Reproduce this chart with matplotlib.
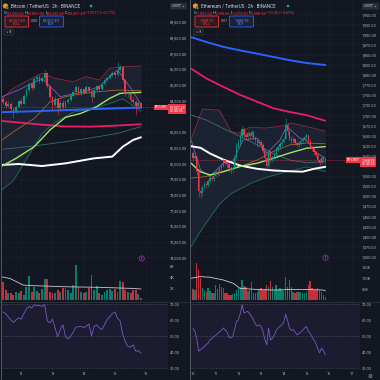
import numpy as np
import matplotlib.pyplot as plt
from matplotlib.patches import FancyBboxPatch, Circle
from matplotlib.transforms import blended_transform_factory

plt.rcParams['font.family'] = ['Roboto', 'DejaVu Sans']

BG = '#131722'
UP = '#089981'
DN = '#f23645'
TXT = '#b2b5be'
GRID = '#1c202b'
W = 380.0

# ----------------------------- BTC (2h) -----------------------------
btc_open0 = 84100
btc_close = [83900, 83650, 83800, 83450, 83300, 83600, 83950, 83800, 84300, 84650,
             85050, 84800, 85350, 85500, 85250, 85400, 85750, 84900, 84200, 83700,
             84100, 83500, 83850, 83600, 83900, 84050, 84300, 84550, 84850, 84500,
             84700, 84500, 84850, 84600, 84200, 84650, 84900, 84700, 85050, 85300,
             85450, 85600, 85750, 85600, 85950, 86100, 85300, 84400, 84450, 84000,
             83900, 83650, 83850, 83557.49]
btc_high = [84250, 84050, 83950, 83900, 83550, 83700, 84050, 84150, 84400, 84800,
            85200, 85150, 85500, 85650, 85600, 85550, 85950, 85800, 85000, 84300,
            84250, 84150, 83950, 84000, 84000, 84150, 84450, 84650, 85000, 84900,
            84800, 84750, 84950, 84900, 84650, 84750, 85000, 84950, 85150, 85400,
            85550, 85700, 85850, 85800, 86450, 86250, 86150, 85350, 84650, 84550,
            84200, 84000, 83950, 83900]
btc_low = [83750, 83500, 83550, 83300, 82900, 83200, 83550, 83650, 83750, 84200,
           84550, 84650, 84750, 85250, 85100, 85150, 85300, 84800, 84000, 83400,
           83600, 83100, 83350, 83450, 83500, 83750, 83950, 84200, 84450, 84350,
           84350, 84400, 84450, 84450, 83900, 84150, 84600, 84600, 84650, 84950,
           85200, 85350, 85500, 85450, 85550, 85850, 85200, 84250, 84200, 83900,
           83750, 83100, 83550, 83500]
btc_vol = [3.2, 1.8, 1.2, 1.3, 1.0, 1.4, 1.3, 1.6, 1.0, 2.4,
           4.4, 1.5, 2.3, 1.6, 1.2, 2.0, 3.8, 3.9, 1.5, 1.3,
           1.2, 1.8, 1.4, 2.2, 2.1, 1.9, 1.3, 2.8, 6.4, 2.4,
           1.5, 1.2, 1.4, 2.2, 4.6, 1.8, 2.6, 1.3, 1.0, 1.4,
           1.8, 2.0, 1.6, 2.0, 1.5, 3.5, 3.3, 1.8, 1.4, 1.2,
           1.9, 1.9, 1.1, 0.4]
btc_vma_x = [-0.4, 2.7, 5.3, 7.8, 11.7, 24.5, 37.3, 50, 53]
btc_vma = [4.2, 3.9, 3.3, 2.7, 2.6, 2.4, 2.3, 2.1, 2.0]
btc_rsi = [65, 64, 62, 60, 58.5, 60, 61.3, 60.5, 64, 67,
           68.5, 67.5, 69.5, 69, 69, 68.5, 69.6, 59.5, 58.2, 60.5,
           55, 49.5, 54, 57, 49.5, 48.2, 50, 52.5, 55.5, 55.8,
           56, 55.3, 56, 57.5, 50, 56, 57, 55, 54, 57,
           60.3, 62, 64, 65, 61, 59.5, 51, 46.5, 43.5, 43,
           44.5, 40.5, 40.8, 39.4]
btc_days = ['12', '13', '14', '15', '16']
btc_day_idx = [7, 19, 31, 43, 55]
btc_ticks = [74000, 75000, 76000, 77000, 78000, 79000, 80000, 81000, 82000,
             84000, 85000, 86000, 87000, 88000, 89000]
btc_vticks = [2, 4, 6]
btc_vlabels = ['2K', '4K', '6K']

btc_blue_x = [-0.4, 12, 24, 37, 53]
btc_blue = [83250, 83310, 83380, 83460, 83540]
btc_pink_x = [-0.4, 8, 16, 24, 34, 44, 53]
btc_pink = [82690, 82560, 82440, 82340, 82330, 82400, 82480]
btc_orange_x = [-0.4, 5, 12, 18, 24, 31, 37, 44, 53]
btc_orange = [81480, 82110, 82850, 83900, 84240, 84450, 84560, 84660, 84620]
btc_green_x = [-0.4, 5, 12, 18, 24, 30, 36, 41, 45, 53]
btc_green = [79820, 80310, 81050, 82110, 82920, 83180, 83600, 84130, 84450, 84510]
btc_teal_x = [-0.4, 12, 24, 35, 44, 53]
btc_teal = [80880, 81100, 81370, 81650, 81900, 82330]
btc_white_x = [-0.4, 6, 15, 24, 35, 42, 46, 50, 53]
btc_white = [79890, 79950, 79820, 79990, 80310, 80420, 81050, 81480, 81650]
btc_purple_x = [-0.4, 6, 15, 22, 31, 37, 44, 50, 53]
btc_purple = [84240, 84660, 85400, 84240, 84560, 84870, 85940, 84560, 83710]
btc_bb_x = [-0.4, 4, 11, 15, 20, 27, 32, 37, 41, 46, 53]
btc_bb_up = [84130, 84770, 85400, 85720, 85400, 85190, 85510, 85300, 86040, 86150, 86190]
btc_bb_lo = [78300, 78900, 80800, 81900, 82600, 83250, 83400, 83600, 83800, 84100, 83300]

# ----------------------------- ETH (2h) -----------------------------
eth_open0 = 1605
eth_close = [1595, 1598, 1560, 1512, 1508, 1522, 1530, 1526, 1538, 1545,
             1542, 1550, 1560, 1556, 1568, 1575, 1588, 1582, 1578, 1568,
             1564, 1570, 1596, 1624, 1630, 1648, 1666, 1650, 1646, 1655,
             1648, 1658, 1644, 1638, 1630, 1634, 1626, 1612, 1595, 1575,
             1610, 1590, 1596, 1604, 1615, 1620, 1628, 1634, 1642, 1675,
             1660, 1642, 1635, 1640, 1632, 1626, 1630, 1636, 1640, 1646,
             1650, 1636, 1622, 1616, 1608, 1602, 1590, 1582, 1594, 1591.04,
             1588.98]
eth_high = [1612, 1604, 1600, 1565, 1520, 1528, 1536, 1535, 1542, 1550,
            1551, 1556, 1565, 1566, 1572, 1580, 1593, 1592, 1586, 1581,
            1573, 1576, 1600, 1630, 1642, 1655, 1672, 1670, 1656, 1660,
            1658, 1663, 1660, 1648, 1642, 1640, 1638, 1630, 1615, 1600,
            1614, 1612, 1601, 1609, 1620, 1626, 1634, 1640, 1648, 1692,
            1680, 1664, 1648, 1646, 1644, 1636, 1636, 1640, 1645, 1650,
            1656, 1652, 1640, 1626, 1620, 1612, 1606, 1594, 1598, 1599,
            1593.66]
eth_low = [1590, 1588, 1552, 1498, 1496, 1502, 1516, 1520, 1522, 1532,
           1536, 1538, 1546, 1550, 1552, 1563, 1571, 1576, 1570, 1560,
           1556, 1558, 1566, 1592, 1618, 1626, 1644, 1645, 1638, 1640,
           1642, 1645, 1638, 1630, 1622, 1624, 1618, 1605, 1586, 1566,
           1572, 1584, 1585, 1592, 1600, 1610, 1616, 1624, 1630, 1640,
           1652, 1636, 1628, 1630, 1626, 1620, 1622, 1626, 1632, 1636,
           1642, 1630, 1616, 1610, 1602, 1596, 1584, 1576, 1578, 1584,
           1579.20]
eth_vol = [50, 45, 175, 140, 100, 53, 45, 37, 56, 40,
           30, 30, 70, 50, 73, 60, 53, 33, 29, 22,
           21, 25, 29, 45, 53, 58, 94, 65, 60, 40,
           45, 85, 29, 30, 37, 45, 53, 45, 50, 69,
           60, 89, 61, 45, 69, 45, 53, 45, 40, 106,
           61, 91, 61, 37, 29, 35, 37, 37, 29, 30,
           37, 69, 89, 53, 45, 45, 53, 45, 37, 21,
           10]
eth_vma_x = [-1, 3.7, 9, 16, 21.3, 24.9, 33.7, 42.5, 51.3, 60.1, 69, 70]
eth_vma = [101, 109, 106, 93, 77, 53, 48, 45, 48, 48, 45, 42]
eth_rsi = [54.5, 53, 48, 40.5, 41.5, 42.3, 43.5, 44.6, 45.5, 47.7,
           48.5, 49.5, 50.3, 51.5, 52.5, 53.4, 55, 53.8, 52.5, 49.5,
           48.8, 49.6, 54, 59, 60, 64, 69.5, 64.4, 65, 65.4,
           63.8, 62.3, 60, 57.5, 56.2, 57, 56, 53, 48, 44.6,
           55, 47.5, 48.5, 50.5, 53.5, 55, 56, 57, 58.5, 63.5,
           60, 55, 53.5, 54, 52.5, 50.8, 51.5, 52.5, 53.5, 55,
           56, 52.9, 51.5, 49.5, 47.5, 45.5, 42, 39.5, 42.3, 41,
           38.3]
eth_days = ['10', '11', '12', '13', '14', '15', '16', '17']
eth_day_idx = [0, 12, 24, 36, 48, 60, 72, 84]
eth_ticks = [t for t in range(1350, 1951, 25) if t != 1575]
eth_vticks = [50, 100, 150]
eth_vlabels = ['50K', '100K', '150K']

eth_blue_x = [-1, 7, 16, 25, 34, 42.5, 51, 60, 70]
eth_blue = [1893, 1881, 1869, 1860, 1852, 1844, 1836, 1829, 1824]
eth_pink_x = [-1, 7, 16, 25, 34, 42.5, 51, 60, 70]
eth_pink = [1815, 1791, 1770, 1750, 1733, 1717, 1708, 1700, 1686]
eth_gray_x = [-1, 7, 16, 25, 34, 42.5, 51, 60, 70]
eth_gray = [1700, 1688, 1667, 1647, 1626, 1605, 1589, 1582, 1585]
eth_white_x = [-1, 4, 9, 16, 25, 34, 42.5, 51, 58, 64, 70]
eth_white = [1623, 1619, 1605, 1590, 1575, 1567, 1563, 1561, 1560, 1567, 1572]
eth_green_x = [-1, 3.7, 9, 16, 25, 34, 42.5, 51, 60, 70]
eth_green = [1581, 1560, 1552, 1560, 1573, 1581, 1593, 1606, 1618, 1622]
eth_orange_x = [-1, 7, 16, 25, 34, 42.5, 51, 60, 70]
eth_orange = [1544, 1548, 1560, 1573, 1589, 1610, 1626, 1631, 1629]
eth_purple_x = [-1, 4, 9, 16, 21, 26.5, 34, 39, 46, 49.5, 56.5, 60, 65.5, 70]
eth_purple = [1638, 1564, 1548, 1581, 1585, 1638, 1643, 1606, 1638, 1672, 1643, 1638, 1606, 1593]
eth_bb_x = [-1, 5, 14, 20, 24, 30, 38, 46, 52, 60, 70]
eth_bb_up = [1640, 1715, 1712, 1660, 1655, 1670, 1668, 1672, 1680, 1672, 1660]
eth_bb_lo = [1375, 1420, 1480, 1505, 1515, 1530, 1545, 1555, 1562, 1572, 1560]

fig = plt.figure(figsize=(3.8, 3.8), dpi=100, facecolor=BG)


def px(l, t, w, h):
    return [l / W, 1 - (t + h) / W, w / W, h / W]


def clean(a):
    for s in a.spines.values():
        s.set_visible(False)


def draw_panel(left, width, xlim, ylim, vylim, sym, op0, close, high, low, vol,
               vma_x, vma, rsi, days, day_idx, ticks, vticks, vlabels, lines, bb):
    n = len(close)
    x = np.arange(n)
    c = np.array(close, float)
    o = np.array([op0] + close[:-1], float)
    cols = np.where(c >= o, UP, DN)

    ax = fig.add_axes(px(left, 0, width, 301))
    ax.set_facecolor(BG)
    clean(ax)
    ax.set_xlim(*xlim)
    ax.set_ylim(*ylim)
    ax.set_xticks(day_idx)
    ax.tick_params(axis='x', length=0, labelbottom=False)
    ax.yaxis.tick_right()
    ax.set_yticks(ticks)
    ax.set_yticklabels([f'{t:,.2f}' for t in ticks])
    ax.tick_params(axis='y', length=0, pad=1.2, labelsize=2.8, labelcolor=TXT)
    ax.grid(True, color=GRID, lw=0.4)

    bx, up_, lo_ = bb
    ax.fill_between(bx, lo_, up_, color='#2b3a55', alpha=0.35, lw=0, zorder=1)
    ax.plot(bx, up_, color='#8a2d3b', lw=0.6, zorder=2)
    ax.plot(bx, lo_, color='#1d6b60', lw=0.6, zorder=2)
    for lx, ly, col, lw in lines:
        ax.plot(lx, ly, color=col, lw=lw, zorder=3, solid_capstyle='round')

    span = ylim[1] - ylim[0]
    ax.vlines(x, low, high, colors=cols, lw=0.4, zorder=4)
    ax.bar(x, np.maximum(np.abs(c - o), span * 0.0015), bottom=np.minimum(c, o),
           width=0.7, color=cols, lw=0, zorder=5)

    # last price line, price/countdown box and symbol tag
    last = close[-1]
    ax.axhline(last, color=DN, lw=0.5, ls=(0, (1, 1.5)), zorder=3)
    tr = blended_transform_factory(ax.transAxes, ax.transData)
    ax.annotate(f'{last:,.2f}\n01:40:05', xy=(1.008, last), xycoords=tr,
                xytext=(0, 1.7), textcoords='offset points', ha='left', va='top',
                fontsize=2.5, color='white', linespacing=1.15, annotation_clip=False,
                zorder=20, bbox=dict(boxstyle='square,pad=0.3', fc=DN, ec='none'))
    ax.text(0.996, last, sym, transform=tr, ha='right', va='center', fontsize=2.1,
            color='white', zorder=20, bbox=dict(boxstyle='square,pad=0.25', fc=DN, ec='none'))

    # volume overlay
    vax = fig.add_axes(px(left, 240, width, 61))
    vax.patch.set_alpha(0)
    clean(vax)
    vax.set_xlim(*xlim)
    vax.set_ylim(*vylim)
    vax.bar(x, vol, width=0.75, color=cols, alpha=0.8, lw=0)
    vax.plot(vma_x, vma, color='#c9cbd1', lw=0.6)
    vax.set_xticks([])
    vax.yaxis.tick_right()
    vax.set_yticks(vticks)
    vax.set_yticklabels(vlabels)
    vax.tick_params(axis='y', length=0, pad=1.2, labelsize=2.8, labelcolor=TXT)

    # RSI pane
    rax = fig.add_axes(px(left, 302, width, 68))
    rax.set_facecolor(BG)
    clean(rax)
    rax.set_xlim(*xlim)
    rax.set_ylim(28.75, 71.25)
    rax.axhspan(30, 70, color='#7e57c2', alpha=0.09, lw=0)
    for lv in (70, 50, 30):
        rax.axhline(lv, color='#787b86', lw=0.4, ls=(0, (2, 2)), alpha=0.7)
    rax.plot(x, rsi, color='#7e57c2', lw=0.6)
    rax.yaxis.tick_right()
    rax.set_yticks([30, 40, 50, 60, 70])
    rax.set_yticklabels(['30.00', '40.00', '50.00', '60.00', '70.00'])
    rax.set_xticks(day_idx)
    rax.set_xticklabels(days)
    rax.tick_params(length=0, pad=1.2, labelsize=2.8, labelcolor=TXT)
    rax.grid(True, axis='x', color=GRID, lw=0.4)


draw_panel(2, 166, (-0.4, 63.4), (71223, 90395), (-0.18, 10.9), 'BTCUSDT',
           btc_open0, btc_close, btc_high, btc_low, btc_vol, btc_vma_x, btc_vma, btc_rsi,
           btc_days, btc_day_idx, btc_ticks, btc_vticks, btc_vlabels,
           [(btc_teal_x, btc_teal, '#2f6f6a', 0.6),
            (btc_orange_x, btc_orange, '#a8652a', 0.6),
            (btc_purple_x, btc_purple, '#8f64d6', 0.5),
            (btc_white_x, btc_white, '#ffffff', 1.4),
            (btc_pink_x, btc_pink, '#e91e63', 1.3),
            (btc_green_x, btc_green, '#9ee65f', 1.0),
            (btc_blue_x, btc_blue, '#2962ff', 1.4)],
           (btc_bb_x, btc_bb_up, btc_bb_lo))

draw_panel(191, 169, (-1.06, 88.36), (1239.9, 1984.9), (-7, 283), 'ETHUSDT',
           eth_open0, eth_close, eth_high, eth_low, eth_vol, eth_vma_x, eth_vma, eth_rsi,
           eth_days, eth_day_idx, eth_ticks, eth_vticks, eth_vlabels,
           [(eth_gray_x, eth_gray, '#3f6f72', 0.6),
            (eth_orange_x, eth_orange, '#a8652a', 0.6),
            (eth_purple_x, eth_purple, '#8f64d6', 0.5),
            (eth_white_x, eth_white, '#ffffff', 1.4),
            (eth_pink_x, eth_pink, '#e91e63', 1.3),
            (eth_green_x, eth_green, '#9ee65f', 1.0),
            (eth_blue_x, eth_blue, '#2962ff', 1.4)],
           (eth_bb_x, eth_bb_up, eth_bb_lo))

# ----------------------------- overlay: headers, separators -----------------------------
ov = fig.add_axes([0, 0, 1, 1], zorder=10)
ov.set_xlim(0, W)
ov.set_ylim(W, 0)
ov.axis('off')
ov.patch.set_alpha(0)

ov.plot([0, 188], [301.5, 301.5], color='#2a2e39', lw=0.8)
ov.plot([191, 380], [301.5, 301.5], color='#2a2e39', lw=0.8)
ov.plot([1.2, 1.2], [0, 380], color='#5d606b', lw=0.6)
ov.plot([190.3, 190.3], [0, 380], color='#5d606b', lw=0.6)


def chain(x, y, pieces, fs):
    t = ov.text(x, y, pieces[0][0], color=pieces[0][1], fontsize=fs, va='center', ha='left')
    for s, col in pieces[1:]:
        t = ov.annotate(s, xy=(1, 0.5), xycoords=t, va='center', ha='left', color=col, fontsize=fs)


def header(x0, right, title, icon, ohlc, sell, spread, buy):
    ov.add_patch(Circle((x0 + 5.5, 6), 2.6, fc=icon, ec='none'))
    ov.add_patch(Circle((x0 + 7.5, 8), 1.4, fc='#26a17b', ec=BG, lw=0.3))
    ov.text(x0 + 11, 6.2, title, color='#d1d4dc', fontsize=3.3, va='center', ha='left')
    ov.add_patch(FancyBboxPatch((right - 18, 3), 17, 6.5, boxstyle='round,pad=0,rounding_size=1',
                                fc='#2a2e39', ec='none'))
    ov.text(right - 9.5, 6.3, 'USDT ⌄', color='#d1d4dc', fontsize=2.6, va='center', ha='center')
    pieces = []
    for lab, val in zip('OHLC', ohlc[:4]):
        pieces += [(lab, '#d1d4dc'), (val + ' ', DN)]
    pieces.append((ohlc[4], DN))
    chain(x0 + 4, 12.6, pieces, 2.8)
    ov.add_patch(FancyBboxPatch((x0 + 5, 16), 23.5, 11, boxstyle='round,pad=0,rounding_size=1.2',
                                fc='#2b1b22', ec=DN, lw=0.6))
    ov.text(x0 + 16.7, 19.6, sell, color=DN, fontsize=2.8, ha='center', va='center')
    ov.text(x0 + 16.7, 24.0, 'SELL', color=DN, fontsize=2.5, ha='center', va='center')
    ov.text(x0 + 34, 21.5, spread, color=TXT, fontsize=2.6, ha='center', va='center')
    ov.add_patch(FancyBboxPatch((x0 + 39.5, 16), 24, 11, boxstyle='round,pad=0,rounding_size=1.2',
                                fc='#1a2036', ec='#2962ff', lw=0.6))
    ov.text(x0 + 51.5, 19.6, buy, color='#5b8def', fontsize=2.8, ha='center', va='center')
    ov.text(x0 + 51.5, 24.0, 'BUY', color='#5b8def', fontsize=2.5, ha='center', va='center')
    ov.add_patch(FancyBboxPatch((x0 + 4, 29), 9, 6, boxstyle='round,pad=0,rounding_size=1',
                                fc=BG, ec='#3a3e4a', lw=0.5))
    ov.text(x0 + 8.5, 32.1, '∨ 8', color='#d1d4dc', fontsize=2.4, ha='center', va='center')


header(0, 188, 'Bitcoin / TetherUS · 2h · BINANCE', '#f7931a',
       ['83,695.66', '83,800.00', '83,532.65', '83,557.49', '−138.17 (−0.17%)'],
       '83,557.49', '0.00', '83,557.49')
header(190, 380, 'Ethereum / TetherUS · 2h · BINANCE', '#f7931a',
       ['1,591.04', '1,593.66', '1,579.20', '1,588.98', '−10.06 (−0.63%)'],
       '1,588.97', '0.01', '1,588.98')
ov.add_patch(Circle((91, 6), 1.3, fc='#22ab94', ec='none'))
ov.add_patch(Circle((288, 6), 1.3, fc='#22ab94', ec='none'))

# event markers and settings icon
for cx, cy in [(141.7, 258.5), (325.5, 257.7)]:
    ov.add_patch(Circle((cx, cy), 2.6, fc=BG, ec='#9c27b0', lw=0.6))
    ov.text(cx, cy + 0.2, 'F', color='#ce93d8', fontsize=2.2, ha='center', va='center')
ov.text(370, 377, '⚙', color=TXT, fontsize=4, ha='center', va='center')

fig.savefig('out.png', dpi=100, facecolor=BG)
